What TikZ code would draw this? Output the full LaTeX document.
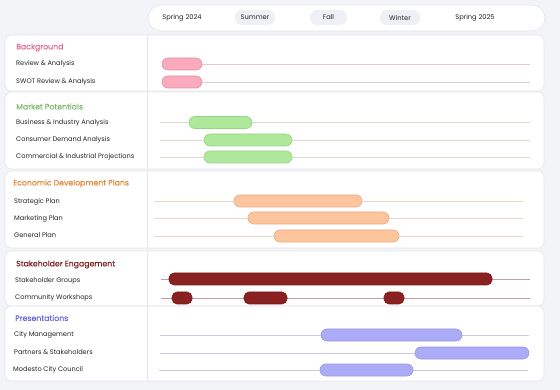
\documentclass[tikz,border=0pt]{standalone}
\usepackage{fontspec}
\setmainfont{Poppins}
\newfontfamily\titlefont{Poppins}[FakeBold=0.35]
\usetikzlibrary{positioning}
\definecolor{PageGray}{HTML}{F3F4F8}
\definecolor{PanelEdge}{HTML}{E3E5EB}
\definecolor{PillGray}{HTML}{EEF0F5}
\definecolor{LabelInk}{HTML}{262626}
\definecolor{PinkTitle}{HTML}{E06C95}
\definecolor{PinkFill}{HTML}{F9AABD}
\definecolor{PinkEdge}{HTML}{E590A6}
\definecolor{PinkTrack}{HTML}{E3C9CF}
\definecolor{GreenTitle}{HTML}{7DBB6C}
\definecolor{GreenFill}{HTML}{AEE89A}
\definecolor{GreenEdge}{HTML}{98D284}
\definecolor{GreenTrack}{HTML}{D9DCCB}
\definecolor{OrangeTitle}{HTML}{E0893A}
\definecolor{OrangeFill}{HTML}{FDC59E}
\definecolor{OrangeEdge}{HTML}{ECA97C}
\definecolor{OrangeTrack}{HTML}{E7D9C6}
\definecolor{RedTitle}{HTML}{7C2020}
\definecolor{RedFill}{HTML}{8A2121}
\definecolor{RedEdge}{HTML}{7A1A1A}
\definecolor{RedTrack}{HTML}{B9A3A3}
\definecolor{PurpleTitle}{HTML}{6868D8}
\definecolor{PurpleFill}{HTML}{ABABF7}
\definecolor{PurpleEdge}{HTML}{9696E0}
\definecolor{PurpleTrack}{HTML}{C9C9DF}
\tikzset{
  panel/.style={rectangle, rounded corners=6pt, draw=PanelEdge, fill=white, line width=0.6pt, inner sep=0pt},
  header/.style={rectangle, rounded corners=13pt, draw=PanelEdge, fill=white, line width=0.6pt, inner sep=0pt, minimum width=397pt, minimum height=26pt},
  season/.style={rectangle, rounded corners=7pt, fill=PillGray, inner sep=0pt, minimum height=15pt, text=LabelInk, font=\fontsize{6.7}{8}\selectfont},
  seasontext/.style={inner sep=0pt, text=LabelInk, font=\fontsize{6.7}{8}\selectfont},
  divider/.style={draw=PanelEdge, line width=0.6pt},
  sectitle/.style={anchor=west, inner sep=0pt, font=\titlefont\fontsize{7.8}{9}\selectfont},
  rowlabel/.style={anchor=west, inner sep=0pt, text=LabelInk, font=\fontsize{6.6}{8}\selectfont},
  taskbar/.style={rectangle, rounded corners=6pt, inner sep=0pt, minimum height=12pt, line width=0.6pt},
  pinkbar/.style={taskbar, fill=PinkFill, draw=PinkEdge},
  greenbar/.style={taskbar, fill=GreenFill, draw=GreenEdge},
  orangebar/.style={taskbar, fill=OrangeFill, draw=OrangeEdge},
  redbar/.style={taskbar, rounded corners=5pt, fill=RedFill, draw=RedEdge},
  purplebar/.style={taskbar, fill=PurpleFill, draw=PurpleEdge},
  track/.style={line width=0.9pt}
}

\begin{document}
\begin{tikzpicture}[x=1pt, y=-1pt]
  \fill [PageGray] (0,0) rectangle (560,390);
  \useasboundingbox (0,0) rectangle (560,390);

  % timeline header
  \node (head) [header] at (346.5,18) {};
  \node (spring24) [seasontext] at (182,17.5) {Spring 2024};
  \node (summer) [season, minimum width=40pt] at (255,17.5) {Summer};
  \node (fall) [season, minimum width=37pt] at (328.5,17.5) {Fall};
  \node (winter) [season, minimum width=40pt] at (400,17.5) {Winter};
  \node (spring25) [seasontext] at (475,17.5) {Spring 2025};

  % panels
  \node (bgpanel) [panel, minimum width=539pt, minimum height=56pt] at (274.5,63) {};
  \node (mppanel) [panel, minimum width=539pt, minimum height=77pt] at (274.5,130.5) {};
  \node (edpanel) [panel, minimum width=539pt, minimum height=77pt] at (274.5,209.5) {};
  \node (sepanel) [panel, minimum width=539pt, minimum height=55pt] at (274.5,278.5) {};
  \node (prpanel) [panel, minimum width=539pt, minimum height=75pt] at (274.5,343.5) {};
  \draw [divider] (147,35) -- (147,91);
  \draw [divider] (147,92) -- (147,169);
  \draw [divider] (147,171) -- (147,248);
  \draw [divider] (147,251) -- (147,306);
  \draw [divider] (147,306) -- (147,381);

  % Background
  \node (bgtitle) [sectitle, text=PinkTitle] at (16,47.5) {Background};
  \node (review) [rowlabel] at (16,64) {Review \& Analysis};
  \node (swot) [rowlabel] at (16,81.5) {SWOT Review \& Analysis};
  \coordinate (reviewS) at (162,64);  \coordinate (reviewE) at (530,64);
  \coordinate (swotS) at (162,82);  \coordinate (swotE) at (530,82);
  \draw [track, PinkTrack] (reviewS) -- (reviewE);
  \draw [track, PinkTrack] (swotS) -- (swotE);
  \node (reviewbar) [pinkbar, minimum width=40pt] at (182,64) {};
  \node (swotbar) [pinkbar, minimum width=40pt] at (182,82) {};

  % Market Potentials
  \node (mptitle) [sectitle, text=GreenTitle] at (16,106.5) {Market Potentials};
  \node (business) [rowlabel] at (16,123) {Business \& Industry Analysis};
  \node (consumer) [rowlabel] at (16,140) {Consumer Demand Analysis};
  \node (commercial) [rowlabel] at (16,157) {Commercial \& Industrial Projections};
  \coordinate (businessS) at (160,122.5);  \coordinate (businessE) at (530,122.5);
  \coordinate (consumerS) at (160,140);  \coordinate (consumerE) at (530,140);
  \coordinate (commercialS) at (160,157);  \coordinate (commercialE) at (530,157);
  \draw [track, GreenTrack] (businessS) -- (businessE);
  \draw [track, GreenTrack] (consumerS) -- (consumerE);
  \draw [track, GreenTrack] (commercialS) -- (commercialE);
  \node (businessbar) [greenbar, minimum width=63pt] at (220.5,122.5) {};
  \node (consumerbar) [greenbar, minimum width=88pt] at (248,140) {};
  \node (commercialbar) [greenbar, minimum width=88pt] at (248,157) {};

  % Economic Development Plans
  \node (edtitle) [sectitle, text=OrangeTitle] at (13,183.5) {Economic Development Plans};
  \node (strategic) [rowlabel] at (14,201.5) {Strategic Plan};
  \node (marketing) [rowlabel] at (14,218.5) {Marketing Plan};
  \node (general) [rowlabel] at (14,235.5) {General Plan};
  \coordinate (strategicS) at (154,201);  \coordinate (strategicE) at (523,201);
  \coordinate (marketingS) at (154,218);  \coordinate (marketingE) at (523,218);
  \coordinate (generalS) at (154,236);  \coordinate (generalE) at (523,236);
  \draw [track, OrangeTrack] (strategicS) -- (strategicE);
  \draw [track, OrangeTrack] (marketingS) -- (marketingE);
  \draw [track, OrangeTrack] (generalS) -- (generalE);
  \node (strategicbar) [orangebar, minimum width=128pt] at (298,201) {};
  \node (marketingbar) [orangebar, minimum width=141pt] at (318.5,218) {};
  \node (generalbar) [orangebar, minimum width=125pt] at (336.5,236) {};

  % Stakeholder Engagement
  \node (setitle) [sectitle, text=RedTitle] at (16,264.5) {Stakeholder Engagement};
  \node (groups) [rowlabel] at (15,280.5) {Stakeholder Groups};
  \node (workshops) [rowlabel] at (15,297.5) {Community Workshops};
  \coordinate (groupsS) at (161,279);  \coordinate (groupsE) at (530,279);
  \coordinate (workshopsS) at (161,298);  \coordinate (workshopsE) at (530,298);
  \draw [track, RedTrack] (groupsS) -- (groupsE);
  \draw [track, RedTrack] (workshopsS) -- (workshopsE);
  \node (groupsbar) [redbar, minimum width=323pt] at (330.5,279) {};
  \node (workshopA) [redbar, minimum width=20pt] at (182,298) {};
  \node (workshopB) [redbar, minimum width=43pt] at (265.5,298) {};
  \node (workshopC) [redbar, minimum width=20pt] at (394,298) {};

  % Presentations
  \node (prtitle) [sectitle, text=PurpleTitle] at (15,318) {Presentations};
  \node (citymgmt) [rowlabel] at (14,334.5) {City Management};
  \node (partners) [rowlabel] at (14,352) {Partners \& Stakeholders};
  \node (council) [rowlabel] at (13,369.5) {Modesto City Council};
  \coordinate (citymgmtS) at (160,335);  \coordinate (citymgmtE) at (529,335);
  \coordinate (partnersS) at (160,353);  \coordinate (partnersE) at (529,353);
  \coordinate (councilS) at (159,370);  \coordinate (councilE) at (528,370);
  \draw [track, PurpleTrack] (citymgmtS) -- (citymgmtE);
  \draw [track, PurpleTrack] (partnersS) -- (partnersE);
  \draw [track, PurpleTrack] (councilS) -- (councilE);
  \node (citymgmtbar) [purplebar, minimum width=141pt] at (391.5,335) {};
  \node (partnersbar) [purplebar, minimum width=114pt] at (472,353) {};
  \node (councilbar) [purplebar, minimum width=93pt] at (366.5,370) {};
\end{tikzpicture}
\end{document}
